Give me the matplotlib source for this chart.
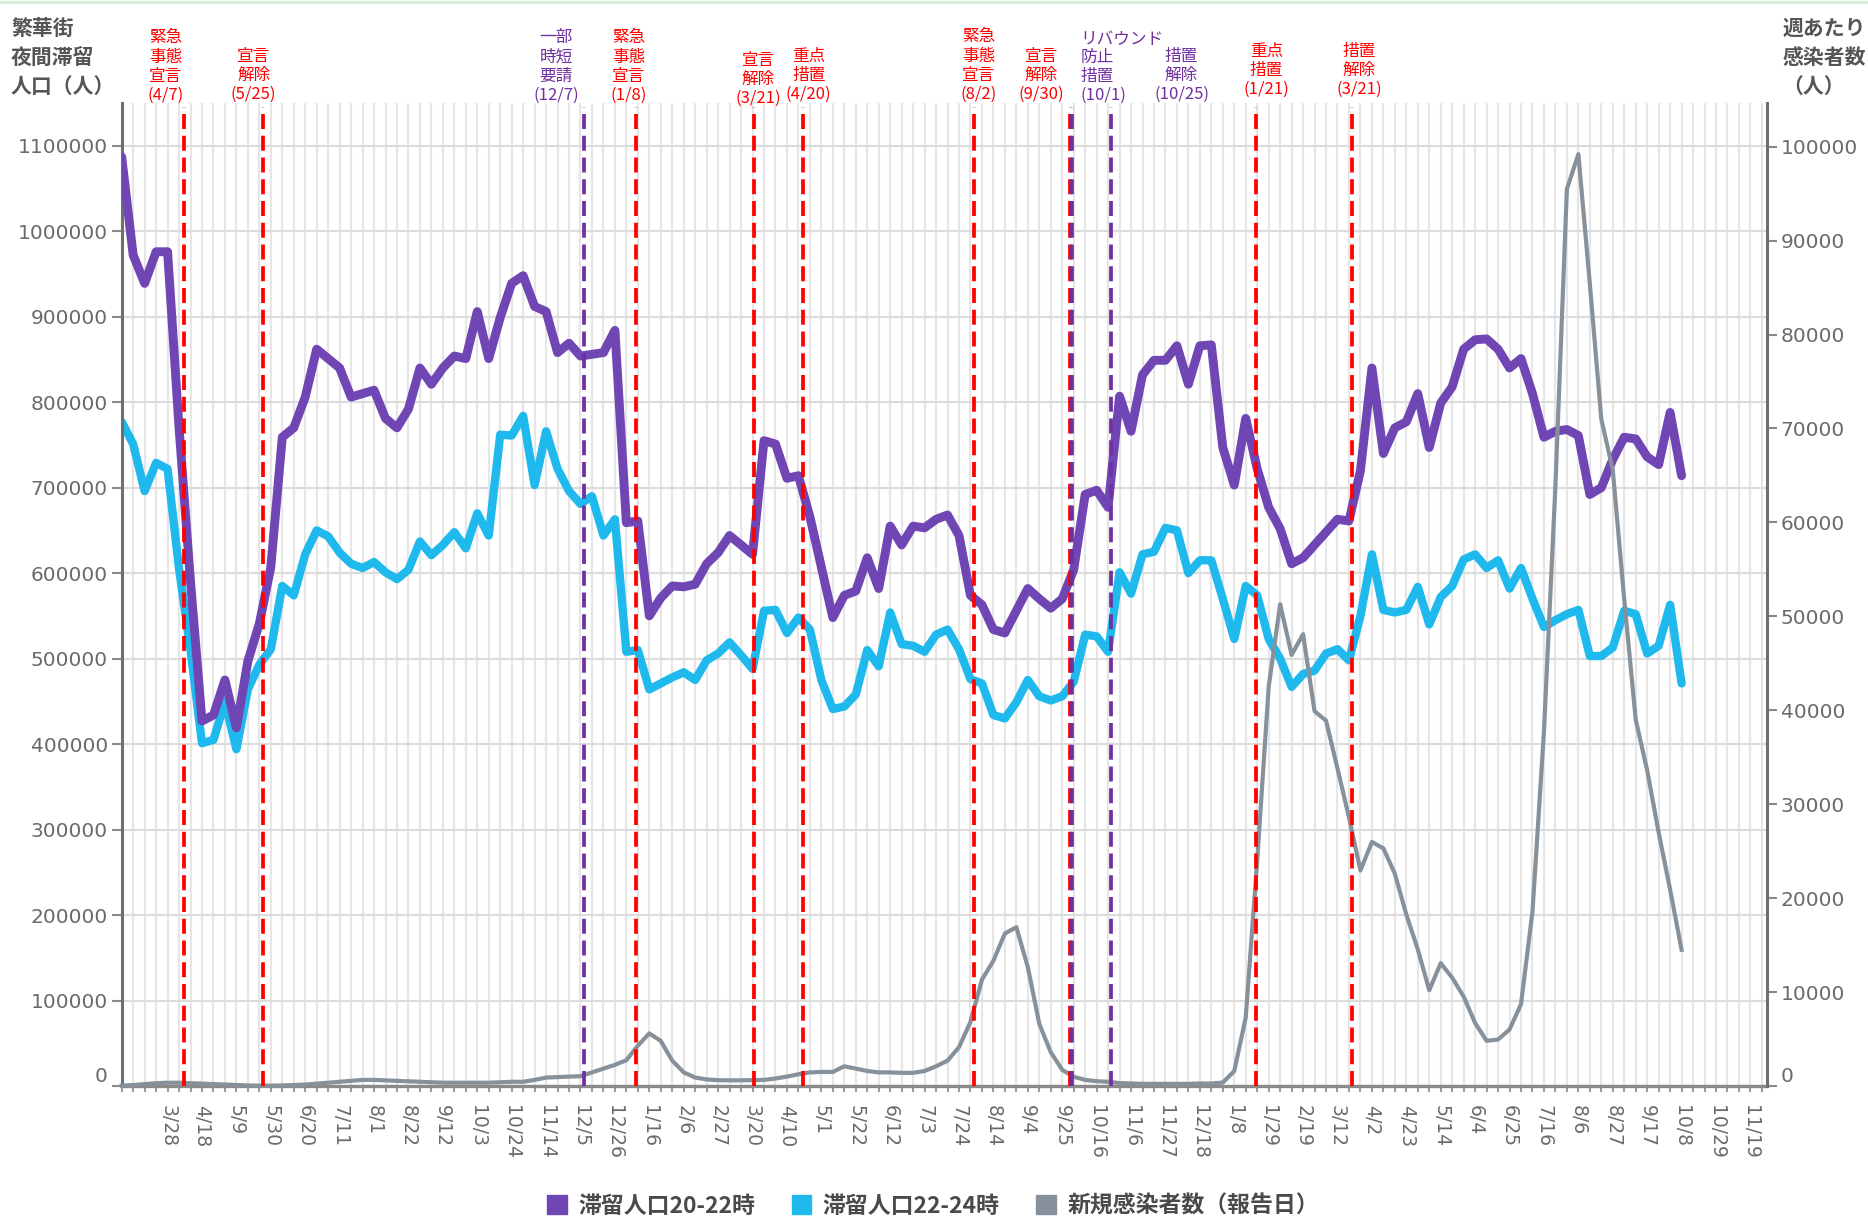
import numpy as np
import pandas as pd
import matplotlib as mpl
mpl.use('Agg')
import matplotlib.pyplot as plt
from matplotlib.patches import Patch
from matplotlib.lines import Line2D
import matplotlib.transforms as mtransforms

plt.rcParams['font.family'] = ['DejaVu Sans', 'Noto Sans CJK JP']

# 週次データ (2020/2/29 から毎週)
start = '2020-02-29'

pop_20_22 = [
    1087, 972, 939, 976, 976, 770, 590, 427, 434, 475,
    419, 497, 541, 607, 759, 770, 806, 862, 851, 840,
    806, 810, 814, 781, 770, 792, 840, 821, 840, 854,
    851, 906, 851, 899, 939, 948, 912, 906, 858, 869,
    854, 856, 858, 884, 659, 661, 550, 571, 585, 584,
    587, 611, 624, 644, 633, 622, 755, 751, 711, 714,
    666, 607, 548, 574, 579, 618, 582, 655, 633, 655,
    653, 663, 668, 644, 574, 563, 534, 530, 556, 582,
    570, 559, 570, 604, 692, 697, 677, 807, 766, 832,
    849, 849, 866, 821, 866, 867, 747, 703, 781, 722,
    677, 652, 611, 618, 633, 648, 663, 661, 720, 840,
    740, 770, 777, 810, 747, 799, 818, 862, 873, 874,
    862, 840, 851, 810, 759, 766, 768, 761, 692, 700,
    733, 759, 757, 736, 727, 788, 714,
]

pop_22_24 = [
    777, 751, 696, 729, 722, 605, 510, 401, 405, 449,
    394, 464, 493, 511, 585, 574, 622, 650, 643, 624,
    611, 606, 613, 601, 593, 604, 637, 621, 633, 648,
    629, 670, 644, 762, 761, 784, 703, 766, 722, 696,
    681, 690, 644, 663, 508, 510, 464, 471, 478, 484,
    475, 498, 506, 519, 504, 488, 556, 557, 530, 548,
    534, 475, 441, 444, 458, 510, 491, 554, 517, 515,
    508, 528, 534, 511, 476, 471, 434, 430, 449, 475,
    456, 451, 456, 473, 528, 526, 508, 601, 576, 622,
    625, 653, 650, 600, 615, 615, 570, 523, 585, 574,
    523, 500, 467, 482, 486, 506, 511, 498, 550, 622,
    557, 554, 557, 584, 540, 572, 585, 616, 622, 606,
    615, 582, 606, 570, 537, 545, 552, 557, 503, 503,
    513, 556, 552, 506, 515, 563, 471,
]

cases = [
    50, 100, 200, 300, 350, 350, 300, 250, 200, 150,
    100, 60, 40, 40, 60, 100, 150, 250, 350, 450,
    550, 650, 650, 600, 550, 500, 450, 400, 350, 350,
    350, 350, 350, 400, 450, 450, 650, 900, 950, 1000,
    1050, 1450, 1850, 2250, 2750, 4300, 5600, 4800, 2700, 1450,
    900, 700, 620, 600, 600, 620, 650, 800, 1000, 1250,
    1450, 1500, 1500, 2100, 1850, 1600, 1450, 1450, 1400, 1400,
    1600, 2100, 2700, 4130, 6820, 11320, 13340, 16230, 16910, 12670,
    6620, 3600, 1720, 980, 650, 510, 450, 310, 270, 230,
    230, 230, 230, 230, 270, 270, 370, 1590, 7300, 24000,
    42500, 51300, 45900, 48100, 39900, 38900, 33800, 28600, 22950, 25980,
    25300, 22600, 18250, 14550, 10190, 13080, 11530, 9520, 6700, 4810,
    4950, 6020, 8710, 18580, 37730, 63900, 95500, 99200, 85400, 71000,
    65600, 51800, 39000, 33600, 27000, 20900, 14500,
]

xlabels = [
    '3/28', '4/18', '5/9', '5/30', '6/20', '7/11', '8/1', '8/22', '9/12', '10/3',
    '10/24', '11/14', '12/5', '12/26', '1/16', '2/6', '2/27', '3/20', '4/10', '5/1',
    '5/22', '6/12', '7/3', '7/24', '8/14', '9/4', '9/25', '10/16', '11/6', '11/27',
    '12/18', '1/8', '1/29', '2/19', '3/12', '4/2', '4/23', '5/14', '6/4', '6/25',
    '7/16', '8/6', '8/27', '9/17', '10/8', '10/29', '11/19',
]

event_dates = ['2020-04-07', '2020-05-25', '2020-12-07', '2021-01-08', '2021-03-21',
               '2021-04-20', '2021-08-02', '2021-09-30', '2021-10-01', '2021-10-25',
               '2022-01-21', '2022-03-21']
event_kind = ['red', 'red', 'purple', 'red', 'red', 'red', 'red', 'red',
              'purple', 'purple', 'red', 'red']
event_notes = ['緊急\n事態\n宣言\n(4/7)', '宣言\n解除\n(5/25)', '一部\n時短\n要請\n(12/7)',
               '緊急\n事態\n宣言\n(1/8)', '宣言\n解除\n(3/21)', '重点\n措置\n(4/20)',
               '緊急\n事態\n宣言\n(8/2)', '宣言\n解除\n(9/30)', 'リバウンド\n防止\n措置\n(10/1)',
               '措置\n解除\n(10/25)', '重点\n措置\n(1/21)', '措置\n解除\n(3/21)']

# 注記の位置 (週, 軸座標y)
note_x = [3.86, 11.5, 37.87, 44.2, 55.5, 59.9, 74.7, 80.2, 83.6, 92.4, 99.8, 107.9]
note_y = [0.999, 1.0, 0.999, 0.999, 0.996, 1.0, 1.0, 1.0, 0.999, 1.0, 1.005, 1.005]

c_purple = '#7046B4'
c_cyan = '#1FB9EE'
c_gray = '#87919B'
line_col = {'red': '#FF0000', 'purple': '#7030A0'}

x = np.arange(len(pop_20_22))
t0 = pd.Timestamp(start)
event_x = [(pd.Timestamp(d) - t0).days / 7 for d in event_dates]

fig = plt.figure(figsize=(18.68, 12.19), dpi=100)
ax = fig.add_axes([0.06515, 0.1091, 0.88062, 0.8064])
ax2 = ax.twinx()
ax2.set_position(ax.get_position())

ax.plot(x, np.array(pop_20_22) * 1000, color=c_purple, lw=6.4,
        solid_joinstyle='round', solid_capstyle='round', zorder=3)
ax.plot(x, np.array(pop_22_24) * 1000, color=c_cyan, lw=6.0,
        solid_joinstyle='round', solid_capstyle='round', zorder=2)
ax2.plot(x, cases, color=c_gray, lw=3.0, solid_joinstyle='round',
         zorder=3, clip_on=False)

for ex, kind in zip(event_x, event_kind):
    ax2.axvline(ex, ymin=0, ymax=0.996, color=line_col[kind], lw=2.7,
                linestyle=(0, (4, 1.8)), zorder=5)

trans = mtransforms.blended_transform_factory(ax.transData, ax.transAxes)
note_style = dict(transform=trans, va='bottom', fontsize=12,
                  family=['Noto Sans CJK JP'], linespacing=1.17, clip_on=False)
for txt, kind, nx, ny in zip(event_notes, event_kind, note_x, note_y):
    col = line_col[kind]
    if txt.startswith('リバ'):
        # 1行目だけ長いので分けて置く
        head, rest = txt.split('\n', 1)
        ax.text(nx, ny, rest, ha='left', ma='left', color=col, **note_style)
        ax.text(nx, ny + 0.0565, head, ha='left', color=col, **note_style)
    else:
        ax.text(nx, ny, txt, ha='center', ma='center', color=col, **note_style)

ax.set_xlim(0, 143.42)
ax.set_ylim(0, 1150000)
ax2.set_ylim(0, 104650)

ax.set_yticks(np.arange(0, 1100001, 100000),
              labels=[str(v) for v in range(0, 1100001, 100000)])
ax2.set_yticks(np.arange(0, 100001, 10000),
               labels=[str(v) for v in range(0, 100001, 10000)])
ax.set_xticks(np.arange(4, 143, 3), labels=xlabels, rotation=-90)
ax.set_xticks(np.arange(0, 144), minor=True)

ax.grid(True, axis='y', color='#dcdcdc', lw=1.5)
ax.grid(True, axis='x', which='both', color='#e6e6e6', lw=1.6)
ax.set_axisbelow(True)

for a in (ax, ax2):
    a.spines['top'].set_visible(False)
ax.spines['right'].set_visible(False)
ax2.spines['left'].set_visible(False)
ax2.spines['bottom'].set_visible(False)
ax.spines['left'].set_color('#6f6f6f')
ax.spines['left'].set_linewidth(2.2)
ax2.spines['right'].set_color('#6f6f6f')
ax2.spines['right'].set_linewidth(2.2)
ax.spines['bottom'].set_color('#8a8a8a')
ax.spines['bottom'].set_linewidth(2.4)

ax.tick_params(axis='y', labelsize=14.5, labelcolor='#6a6a6a', color='#8a8a8a',
               length=7, width=1.5, pad=3)
ax2.tick_params(axis='y', labelsize=14.5, labelcolor='#6a6a6a', color='#8a8a8a',
                length=7, width=1.5, pad=3)
ax.tick_params(axis='x', which='both', labelsize=13.5, labelcolor='#6a6a6a',
               color='#9a9a9a', length=4, width=1.5, pad=10)

for lbl in (ax.get_yticklabels()[0], ax2.get_yticklabels()[0]):
    lbl.set_verticalalignment('bottom')

fig.text(0.0059, 0.985, '繁華街\n夜間滞留\n人口（人）', ha='left', va='top',
         fontsize=15, fontweight='bold', color='#555555',
         family=['Noto Sans CJK JP'], linespacing=1.45)
fig.text(0.954, 0.985, '週あたり\n感染者数\n（人）', ha='left', va='top',
         fontsize=15, fontweight='bold', color='#555555',
         family=['Noto Sans CJK JP'], linespacing=1.45)

handles = [Patch(color=c_purple, label='滞留人口20-22時'),
           Patch(color=c_cyan, label='滞留人口22-24時'),
           Patch(color=c_gray, label='新規感染者数（報告日）')]
leg = fig.legend(handles=handles, loc='center', bbox_to_anchor=(0.4995, 0.0105),
                 ncol=3, frameon=False, handlelength=0.85, handleheight=0.9,
                 handletextpad=0.5, columnspacing=1.6,
                 prop={'family': ['Noto Sans CJK JP'], 'size': 16.5, 'weight': 'bold'})
for t in leg.get_texts():
    t.set_color('#4a4a4a')

fig.add_artist(Line2D([0, 1], [0.9985, 0.9985], transform=fig.transFigure,
                      color='#d4eed4', lw=2))

fig.savefig('out.png', dpi=100)
